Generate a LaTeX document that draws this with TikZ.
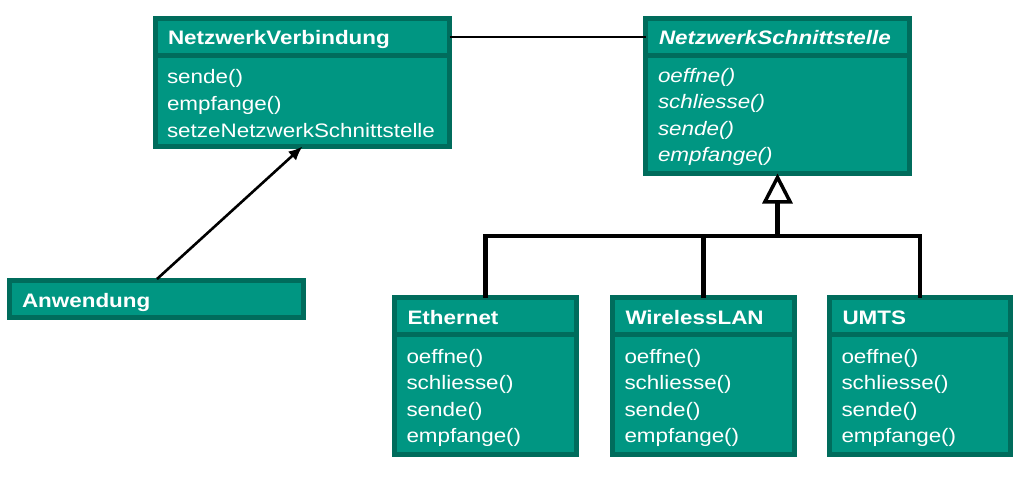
\documentclass[tikz,border=0pt]{standalone}
\usepackage{fontspec}
\setmainfont{Liberation Sans}[FakeStretch=1.15]
\usetikzlibrary{arrows.meta,fit}
\definecolor{tl}{RGB}{0,150,130}
\definecolor{dk}{RGB}{0,108,92}
\tikzset{
  cls/.style={rectangle, draw=dk, fill=tl, line width=5pt, inner sep=0pt, outer sep=0pt},
  txt/.style={anchor=base west, inner sep=0pt, outer sep=0pt, text=white, font=\fontsize{19.5}{27}\selectfont},
  hd/.style={txt, font=\fontsize{19.5}{27}\selectfont\bfseries},
  ihd/.style={txt, font=\fontsize{19.5}{27}\selectfont\bfseries\itshape},
  itxt/.style={txt, font=\fontsize{19.5}{27}\selectfont\itshape},
  assoc/.style={draw=black, line width=2.6pt},
  nav/.style={draw=black, line width=2.6pt, -{Latex[length=14pt,width=12pt]}},
  gen/.style={draw=black, line width=4.5pt},
}
\begin{document}
\begin{tikzpicture}[x=1pt,y=-1pt]
\useasboundingbox (0,0) rectangle (1019,479);
% NetzwerkVerbindung
\node[cls, fit={(155.5,18.5)(449.5,55.5)}] (nvh) {};
\node[cls, fit={(155.5,55.5)(449.5,146.5)}] (nvb) {};
\node[hd] (nvt) at (168,44) {NetzwerkVerbindung};
\node[txt] (nv1) at (167,83) {sende()};
\node[txt] (nv2) at (167,110) {empfange()};
\node[txt] (nv3) at (167,137) {setzeNetzwerkSchnittstelle};
% NetzwerkSchnittstelle
\node[cls, fit={(645.5,18.5)(909.5,55.5)}] (nsh) {};
\node[cls, fit={(645.5,55.5)(909.5,173.5)}] (nsb) {};
\node[ihd] (nst) at (659,44) {NetzwerkSchnittstelle};
\node[itxt] (ns1) at (658,82) {oeffne()};
\node[itxt] (ns2) at (658,108.5) {schliesse()};
\node[itxt] (ns3) at (658,135) {sende()};
\node[itxt] (ns4) at (658,161.5) {empfange()};
% Anwendung
\node[cls, fit={(9.5,280.5)(303.5,317.5)}] (anw) {};
\node[hd] (anwt) at (22,307) {Anwendung};
% Subclasses
\foreach \n/\l/\r/\t in {eth/394.5/576.5/Ethernet, wlan/612.5/794.5/WirelessLAN, umts/829.5/1010.5/UMTS}{
  \node[cls, fit={(\l,297.5)(\r,334)}] (\n) {};
  \node[cls, fit={(\l,334)(\r,454.5)}] (\n b) {};
  \node[hd] (\n t) at (\l+13,324) {\t};
  \node[txt] (\n 1) at (\l+12,363) {oeffne()};
  \node[txt] (\n 2) at (\l+12,389.5) {schliesse()};
  \node[txt] (\n 3) at (\l+12,416) {sende()};
  \node[txt] (\n 4) at (\l+12,442) {empfange()};
}
% association
\draw[assoc] (nvh.east) -- (nsh.west);
% navigable association
\coordinate (anwS) at (157,279);
\draw[nav] (anwS) -- (nvb.south);
% generalization
\coordinate (join) at (777.5,236);
\draw[gen] (eth.north) |- (join);
\draw[gen] (umts.north) |- (join);
\draw[gen] (wlan.north) -- (wlan.north |- join);
\draw[gen, -{Triangle[open, fill=white, length=30pt, width=30pt, line width=3.5pt]}] (join) -- (nsb.south);
\end{tikzpicture}
\end{document}
